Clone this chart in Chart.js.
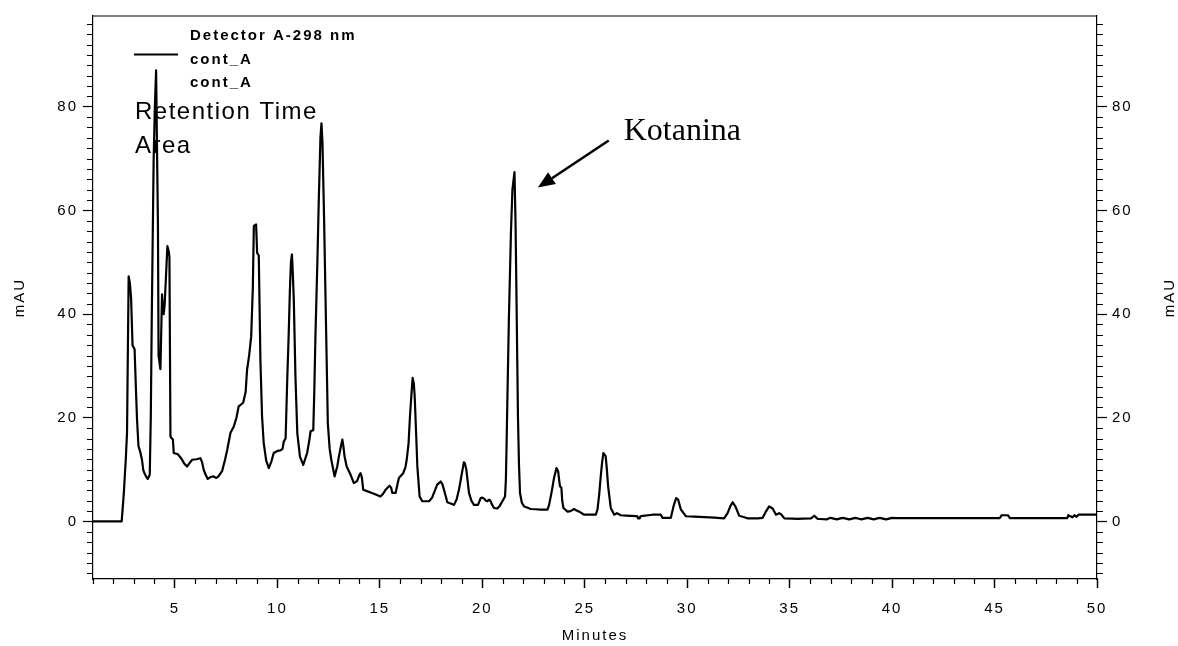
<!DOCTYPE html>
<html>
<head>
<meta charset="utf-8">
<script src="https://cdn.jsdelivr.net/npm/chart.js@4.4.1/dist/chart.umd.min.js"></script>
<style>
  html, body { margin: 0; padding: 0; background: #fff; }
  canvas { display: block; }
</style>
</head>
<body>
<canvas id="chrom" width="1178" height="646"></canvas>
<script>
// Chromatogram trace (minutes, mAU)
const times = [
  1.0, 2.40, 2.50, 2.60, 2.66, 2.74, 2.80, 2.86, 2.93, 3.03, 3.10, 3.15, 3.22, 3.30, 3.39, 3.45, 3.51, 3.60, 3.67, 3.77,
  3.82, 3.87, 3.96, 4.02, 4.08, 4.13, 4.17, 4.20, 4.29, 4.37, 4.42, 4.45, 4.50, 4.57, 4.63, 4.70, 4.73, 4.78, 4.85, 4.90,
  4.94, 5.13, 5.30, 5.45, 5.59, 5.70, 5.84, 6.05, 6.24, 6.32, 6.40, 6.50, 6.60, 6.75, 6.89, 7.00, 7.10, 7.30, 7.45, 7.55,
  7.71, 7.87, 8.00, 8.11, 8.33, 8.45, 8.52, 8.62, 8.72, 8.80, 8.85, 8.96, 9.01, 9.09, 9.17, 9.25, 9.33, 9.45, 9.58, 9.70,
  9.82, 10.00, 10.15, 10.25, 10.31, 10.40, 10.48, 10.55, 10.61, 10.66, 10.71, 10.75, 10.80, 10.88, 10.97, 11.10, 11.26, 11.45, 11.55, 11.62,
  11.75, 11.80, 11.86, 11.95, 12.02, 12.10, 12.15, 12.20, 12.28, 12.35, 12.46, 12.55, 12.63, 12.79, 12.92, 13.00, 13.10, 13.17, 13.22, 13.28,
  13.38, 13.57, 13.73, 13.89, 14.00, 14.06, 14.12, 14.19, 14.40, 14.55, 14.80, 15.03, 15.15, 15.28, 15.47, 15.55, 15.61, 15.77, 15.85, 15.93,
  16.14, 16.25, 16.31, 16.40, 16.47, 16.55, 16.60, 16.66, 16.70, 16.77, 16.83, 16.94, 17.07, 17.40, 17.55, 17.64, 17.80, 17.97, 18.05, 18.13,
  18.22, 18.29, 18.62, 18.75, 18.86, 18.99, 19.10, 19.15, 19.22, 19.35, 19.47, 19.59, 19.79, 19.92, 20.00, 20.09, 20.18, 20.25, 20.32, 20.38,
  20.47, 20.57, 20.73, 20.85, 20.98, 21.11, 21.15, 21.18, 21.24, 21.30, 21.40, 21.47, 21.57, 21.62, 21.66, 21.70, 21.74, 21.79, 21.84, 21.93,
  22.04, 22.36, 22.85, 23.18, 23.26, 23.34, 23.42, 23.50, 23.62, 23.70, 23.75, 23.79, 23.86, 23.90, 23.96, 24.16, 24.30, 24.48, 24.60, 24.73,
  24.97, 25.29, 25.54, 25.62, 25.70, 25.78, 25.85, 25.91, 26.02, 26.08, 26.14, 26.27, 26.44, 26.57, 26.76, 27.57, 27.60, 27.68, 27.72, 28.31,
  28.71, 28.79, 29.20, 29.33, 29.46, 29.56, 29.69, 29.94, 31.48, 31.80, 31.97, 32.10, 32.22, 32.35, 32.54, 32.95, 33.44, 33.68, 33.84, 34.00,
  34.17, 34.33, 34.49, 34.60, 34.74, 35.40, 36.04, 36.20, 36.37, 36.80, 37.00, 37.30, 37.60, 37.90, 38.20, 38.50, 38.80, 39.10, 39.40, 39.70,
  40.00, 40.20, 45.25, 45.35, 45.65, 45.75, 48.55, 48.60, 48.80, 48.90, 49.00, 49.10, 50.0
];
const mau = [
  0, 0, 5.2, 12, 17, 47.3, 46, 43, 34, 33.2, 25, 19.6, 14.5, 13.5, 11.9, 10, 9.3, 8.6, 8.2, 9.0,
  20, 40, 69.8, 80, 87, 70, 57, 32, 29.4, 43.8, 40.5, 40, 42, 48, 53.1, 52, 51, 16.4, 16, 15.8,
  13.2, 13.0, 12.2, 11.2, 10.6, 11.2, 11.9, 12.0, 12.2, 11.5, 10.0, 9.0, 8.2, 8.6, 8.7, 8.4, 8.6, 9.7, 12, 13.8,
  17.1, 18.3, 20, 22.2, 22.9, 25, 29.3, 32, 35.7, 45, 57, 57.3, 51.8, 51.3, 31.2, 20.3, 15.2, 11.8, 10.3, 11.5,
  13.2, 13.6, 13.7, 14, 15.4, 16, 27.4, 36, 44.7, 50, 51.5, 48, 42.8, 28, 17.1, 12.5, 10.9, 13.2, 15.5, 17.4,
  17.6, 25, 36.4, 50, 62.1, 74, 76.8, 73, 58, 42.8, 19, 14, 11.9, 8.7, 10.6, 12.5, 14.5, 15.8, 14.5, 12.5,
  10.6, 9.0, 7.4, 7.8, 9.0, 9.3, 8.5, 6.1, 5.8, 5.6, 5.2, 4.8, 5.3, 6.1, 6.9, 6.5, 5.5, 5.5, 7.0, 8.4,
  9.3, 10.5, 11.9, 15, 20.3, 25, 27.7, 26.5, 24.1, 17, 10.6, 4.8, 3.9, 3.9, 4.6, 5.5, 7.1, 7.7, 7.2, 6.1,
  4.8, 3.7, 3.2, 4.3, 6.1, 9.0, 11.4, 11.2, 10.0, 5.5, 4.0, 3.2, 3.2, 4.5, 4.6, 4.4, 4.0, 3.9, 4.2, 4.1,
  3.3, 2.6, 2.5, 3.0, 3.9, 4.8, 8, 13.8, 27, 39.6, 56, 64, 67.4, 58, 46, 33, 20.3, 11, 5.5, 3.6,
  2.9, 2.4, 2.3, 2.3, 3.2, 4.8, 6.5, 8.4, 10.3, 9.7, 8, 6.8, 6.5, 4, 2.6, 1.9, 2.0, 2.4, 2.1, 1.9,
  1.3, 1.3, 1.3, 2.3, 5.0, 8.7, 11.5, 13.2, 12.6, 10, 6.8, 2.6, 1.3, 1.6, 1.2, 1.0, 0.6, 0.6, 1.0, 1.3,
  1.3, 0.7, 0.7, 2.9, 4.5, 4.2, 2.3, 1.0, 0.7, 0.6, 1.6, 2.9, 3.7, 2.9, 1.1, 0.6, 0.6, 0.7, 1.9, 2.9,
  2.5, 1.3, 1.6, 1.3, 0.6, 0.5, 0.6, 1.1, 0.5, 0.4, 0.7, 0.4, 0.7, 0.4, 0.7, 0.4, 0.7, 0.4, 0.7, 0.4,
  0.7, 0.65, 0.65, 1.2, 1.2, 0.65, 0.65, 1.2, 0.8, 1.2, 0.9, 1.3, 1.3
];

// axis settings
const xMin = 1, xMax = 50, xMajor = 5;
const yMin = -11.1, yMax = 97.5, yMajor = 20, yMinor = 2;

// legend + annotation text
const legendLines = ['Detector A-298 nm', 'cont_A', 'cont_A'];
const infoLines = ['Retention Time', 'Area'];
const peakLabel = 'Kotanina';
const peakArrow = { from: [26.17, 73.5], to: [22.71, 64.4], text: [26.9, 73.5] };

const sans = '"Liberation Sans", Arial, sans-serif';
const serif = '"Liberation Serif", "Times New Roman", serif';

const points = times.map((t, i) => ({ x: t, y: mau[i] }));

// letter spacing for all text like in the original printout
const spacingPlugin = {
  id: 'spacing',
  beforeDraw(chart) {
    chart.ctx.letterSpacing = '2px';
  }
};

// minor ticks, top border, right axis title, legend and the arrow
const extrasPlugin = {
  id: 'extras',
  afterDraw(chart) {
    const ctx = chart.ctx;
    const a = chart.chartArea;
    const x = chart.scales.x, y = chart.scales.y;
    ctx.save();
    ctx.strokeStyle = '#000';
    ctx.fillStyle = '#000';
    ctx.lineWidth = 1.2;

    // top border
    ctx.beginPath();
    ctx.moveTo(a.left, a.top);
    ctx.lineTo(a.right, a.top);
    ctx.stroke();

    // minor ticks
    ctx.beginPath();
    for (let t = xMin; t <= xMax; t++) {
      if (t % xMajor === 0) continue;
      const px = Math.round(x.getPixelForValue(t)) + 0.5;
      ctx.moveTo(px, a.bottom);
      ctx.lineTo(px, a.bottom + 5);
    }
    for (let v = Math.ceil(yMin / yMinor) * yMinor; v <= yMax; v += yMinor) {
      if (v % yMajor === 0) continue;
      const py = Math.round(y.getPixelForValue(v)) + 0.5;
      ctx.moveTo(a.left - 6, py);
      ctx.lineTo(a.left, py);
      ctx.moveTo(a.right, py);
      ctx.lineTo(a.right + 6, py);
    }
    ctx.stroke();

    // right axis title
    ctx.font = '15px ' + sans;
    ctx.textAlign = 'center';
    ctx.textBaseline = 'middle';
    ctx.translate(1170, (a.top + a.bottom) / 2);
    ctx.rotate(-Math.PI / 2);
    ctx.fillText('mAU', 0, 0);
    ctx.setTransform(1, 0, 0, 1, 0, 0);

    // legend
    ctx.lineWidth = 2;
    ctx.beginPath();
    ctx.moveTo(a.left + 41, a.top + 38.5);
    ctx.lineTo(a.left + 85, a.top + 38.5);
    ctx.stroke();
    ctx.textAlign = 'left';
    ctx.textBaseline = 'alphabetic';
    ctx.font = 'bold 15px ' + sans;
    legendLines.forEach((s, i) => ctx.fillText(s, a.left + 97, a.top + 24 + i * 23.7));

    ctx.font = '24px ' + sans;
    ctx.letterSpacing = '1.5px';
    infoLines.forEach((s, i) => ctx.fillText(s, a.left + 42, a.top + 103 + i * 34));

    // peak annotation
    ctx.letterSpacing = '0px';
    ctx.font = '32px ' + serif;
    ctx.fillText(peakLabel, x.getPixelForValue(peakArrow.text[0]), y.getPixelForValue(peakArrow.text[1]));

    const x1 = x.getPixelForValue(peakArrow.from[0]), y1 = y.getPixelForValue(peakArrow.from[1]);
    const x2 = x.getPixelForValue(peakArrow.to[0]), y2 = y.getPixelForValue(peakArrow.to[1]);
    const ang = Math.atan2(y2 - y1, x2 - x1);
    const head = 17, half = 7;
    const bx = x2 - head * Math.cos(ang), by = y2 - head * Math.sin(ang);
    ctx.lineWidth = 2.5;
    ctx.beginPath();
    ctx.moveTo(x1, y1);
    ctx.lineTo(bx, by);
    ctx.stroke();
    ctx.beginPath();
    ctx.moveTo(x2, y2);
    ctx.lineTo(bx + half * Math.sin(ang), by - half * Math.cos(ang));
    ctx.lineTo(bx - half * Math.sin(ang), by + half * Math.cos(ang));
    ctx.closePath();
    ctx.fill();
    ctx.restore();
  }
};

const yAxis = (pos, width) => ({
  type: 'linear',
  position: pos,
  min: yMin,
  max: yMax,
  ticks: {
    stepSize: yMinor,
    autoSkip: false,
    color: '#000',
    padding: 5,
    font: { size: 15, family: sans },
    callback: v => (v % yMajor === 0 ? v : '')
  },
  grid: {
    drawOnChartArea: false,
    tickLength: 10,
    tickWidth: 1.2,
    tickColor: c => (c.tick && c.tick.value % yMajor === 0 ? '#000' : 'rgba(0,0,0,0)')
  },
  border: { color: '#000', width: 1.2 },
  afterFit: s => { s.width = width; }
});

const leftAxis = yAxis('left', 93);
leftAxis.title = { display: true, text: 'mAU', color: '#000', font: { size: 15, family: sans }, padding: 11 };

new Chart(document.getElementById('chrom'), {
  type: 'line',
  data: {
    datasets: [{
      data: points,
      borderColor: '#000',
      borderWidth: 2.2,
      borderJoinStyle: 'round',
      borderDash: [10, 0], // solid, but keeps every point in the path
      pointRadius: 0,
      tension: 0,
      fill: false
    }]
  },
  options: {
    responsive: false,
    animation: false,
    layout: { padding: { top: 16, left: 0, right: 0, bottom: 0 } },
    plugins: { legend: { display: false }, tooltip: { enabled: false } },
    scales: {
      x: {
        type: 'linear',
        min: xMin,
        max: xMax,
        ticks: {
          stepSize: 1,
          autoSkip: false,
          maxRotation: 0,
          color: '#000',
          padding: 12,
          font: { size: 15, family: sans },
          callback: v => (v % xMajor === 0 ? v : '')
        },
        grid: {
          drawOnChartArea: false,
          tickLength: 9,
          tickWidth: 1.5,
          tickColor: c => (c.tick && c.tick.value % xMajor === 0 ? '#000' : 'rgba(0,0,0,0)')
        },
        border: { color: '#000', width: 1.2 },
        title: { display: true, text: 'Minutes', color: '#000', font: { size: 15, family: sans }, padding: 1 },
        afterFit: s => { s.height = 67; }
      },
      y: leftAxis,
      y2: yAxis('right', 81)
    }
  },
  plugins: [spacingPlugin, extrasPlugin]
});
</script>
</body>
</html>
